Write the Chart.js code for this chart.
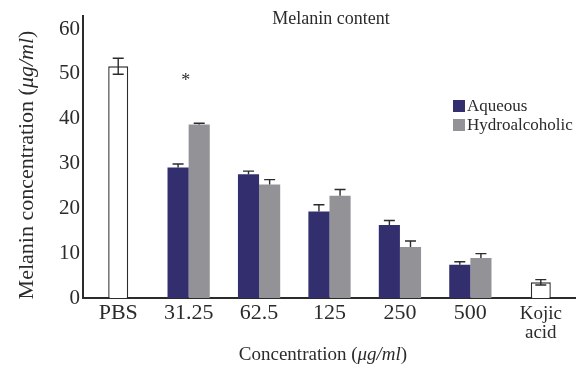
<!DOCTYPE html>
<html>
<head>
<meta charset="utf-8">
<script src="https://cdn.jsdelivr.net/npm/chart.js@4"></script>
<style>
  html, body { margin: 0; padding: 0; background: #fff; }
  #wrap { width: 576px; height: 370px; }
</style>
</head>
<body>
<div id="wrap"><canvas id="melaninChart" width="576" height="370"></canvas></div>
<script>
/* ===== Melanin content — grouped bars with error bars ===== */

const categories = ['PBS', '31.25', '62.5', '125', '250', '500', ['Kojic', 'acid']];

const aqueous      = [null, 29.1, 27.6, 19.3, 16.3, 7.4, null];
const aqueousErr   = [null, 0.8, 0.7, 1.5, 1.0, 0.7, null];
const hydro        = [null, 38.7, 25.3, 22.8, 11.4, 8.9, null];
const hydroErr     = [null, 0.3, 1.1, 1.4, 1.3, 1.0, null];
const control      = [51.7, null, null, null, null, null, 3.5];
const controlErr   = [1.8, null, null, null, null, null, 0.6];

const yTicks = [0, 10, 20, 30, 40, 50, 60];
const signifIndex = 1; // the "*" above 31.25

const SERIF = '"Liberation Serif", "DejaVu Serif", serif';
const INK = '#2b2b2b';

// draws text made of plain and italic parts, centred on (0,0) of current transform
function drawRich(ctx, parts, size) {
  const fonts = parts.map(p => (p.it ? 'italic ' : '') + size + 'px ' + SERIF);
  let total = 0;
  const widths = parts.map((p, i) => { ctx.font = fonts[i]; const w = ctx.measureText(p.t).width; total += w; return w; });
  let x = -total / 2;
  parts.forEach((p, i) => {
    ctx.font = fonts[i];
    ctx.fillText(p.t, x, 0);
    x += widths[i];
  });
}

const annotations = {
  id: 'annotations',
  afterDatasetsDraw(chart) {
    const { ctx, scales: { x, y } } = chart;
    ctx.save();
    ctx.strokeStyle = INK;
    ctx.lineWidth = 1.4;

    // error bars
    const sets = [
      { ds: 0, err: aqueousErr, full: false },
      { ds: 1, err: hydroErr, full: false },
      { ds: 2, err: controlErr, full: true }
    ];
    sets.forEach(s => {
      const meta = chart.getDatasetMeta(s.ds);
      const vals = chart.data.datasets[s.ds].data;
      meta.data.forEach((bar, i) => {
        if (vals[i] == null || s.err[i] == null) return;
        const top = y.getPixelForValue(vals[i] + s.err[i]);
        const bot = s.full ? y.getPixelForValue(vals[i] - s.err[i]) : bar.y;
        const cx = bar.x;
        const half = 5.5;
        ctx.beginPath();
        ctx.moveTo(cx, top); ctx.lineTo(cx, bot);
        ctx.moveTo(cx - half, top); ctx.lineTo(cx + half, top);
        if (s.full) { ctx.moveTo(cx - half, bot); ctx.lineTo(cx + half, bot); }
        ctx.stroke();
      });
    });

    ctx.fillStyle = INK;
    ctx.textBaseline = 'middle';

    // significance mark
    ctx.textAlign = 'center';
    ctx.font = '18px ' + SERIF;
    ctx.fillText('*', x.getPixelForValue(signifIndex) - 3, y.getPixelForValue(49) + 3);

    // title
    ctx.font = '18px ' + SERIF;
    ctx.fillText('Melanin content', 331, 19);

    // legend
    const legend = [
      { label: 'Aqueous', color: chart.data.datasets[0].backgroundColor },
      { label: 'Hydroalcoholic', color: chart.data.datasets[1].backgroundColor }
    ];
    ctx.textAlign = 'left';
    ctx.font = '17px ' + SERIF;
    legend.forEach((l, i) => {
      const cy = 106 + i * 19;
      ctx.fillStyle = l.color;
      ctx.fillRect(453, cy - 6, 12, 12);
      ctx.fillStyle = INK;
      ctx.fillText(l.label, 467, cy + 1);
    });

    // axis titles
    ctx.save();
    ctx.translate(27, 165);
    ctx.rotate(-Math.PI / 2);
    drawRich(ctx, [{ t: 'Melanin concentration (' }, { t: 'μg/ml', it: true }, { t: ')' }], 22);
    ctx.restore();

    ctx.save();
    ctx.translate(323, 355);
    drawRich(ctx, [{ t: 'Concentration (' }, { t: 'μg/ml', it: true }, { t: ')' }], 19);
    ctx.restore();

    ctx.restore();
  }
};

new Chart(document.getElementById('melaninChart').getContext('2d'), {
  type: 'bar',
  data: {
    labels: categories,
    datasets: [
      {
        label: 'Aqueous',
        data: aqueous,
        backgroundColor: '#332f6e',
        borderWidth: 0
      },
      {
        label: 'Hydroalcoholic',
        data: hydro,
        backgroundColor: '#939397',
        borderWidth: 0
      },
      {
        label: 'Control',
        data: control,
        backgroundColor: '#ffffff',
        borderColor: INK,
        borderWidth: 1.4,
        maxBarThickness: 20
      }
    ]
  },
  options: {
    responsive: false,
    animation: false,
    skipNull: true,
    categoryPercentage: 0.6,
    barPercentage: 1.0,
    layout: { padding: { top: 11, right: 0, left: 0, bottom: 0 } },
    plugins: {
      legend: { display: false },
      tooltip: { enabled: false }
    },
    scales: {
      x: {
        grid: { display: false, drawTicks: false },
        border: { display: true, color: INK, width: 2 },
        ticks: {
          color: INK,
          padding: 7,
          maxRotation: 0,
          autoSkip: false,
          font: c => (c.index === 6
            ? { family: SERIF, size: 19, lineHeight: 1.0 }
            : { family: SERIF, size: 22, lineHeight: 0.75 })
        },
        afterFit: s => { s.height = 72; }
      },
      y: {
        min: 0,
        max: 63,
        grid: { display: false, drawTicks: false },
        border: { display: true, color: INK, width: 2 },
        ticks: {
          color: INK,
          padding: 3,
          stepSize: 10,
          font: { family: SERIF, size: 21 }
        },
        afterBuildTicks: s => { s.ticks = yTicks.map(v => ({ value: v })); },
        afterFit: s => { s.width = 83; }
      }
    }
  },
  plugins: [annotations]
});
</script>
</body>
</html>
